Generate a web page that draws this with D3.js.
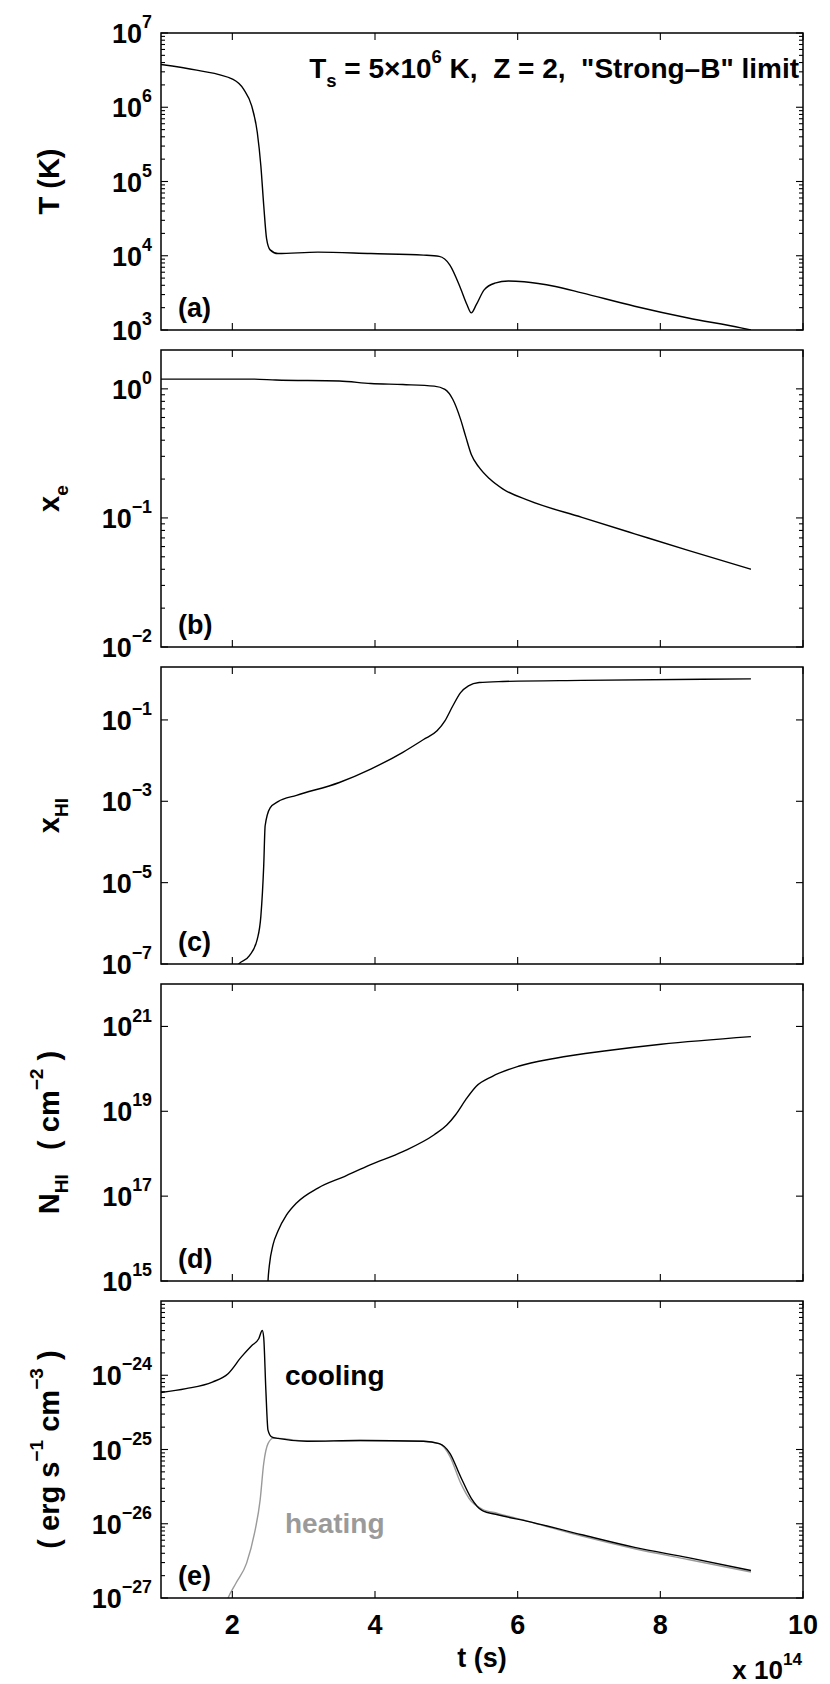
<!DOCTYPE html>
<html>
<head>
<meta charset="utf-8">
<script src="https://cdn.jsdelivr.net/npm/d3@7"></script>
<style>
  body { margin: 0; background: #fff; }
  text { font-family: "Liberation Sans", Arial, Helvetica, sans-serif; font-weight: bold; white-space: pre; }
</style>
</head>
<body>
<svg id="chart" width="830" height="1684"></svg>
<script>
// time axis in units of 1e14 s
const xTicks = [2, 4, 6, 8, 10];

// (a) temperature T (K)
const tempTime = [1.0, 1.5, 2.01, 2.16, 2.27, 2.35, 2.40, 2.44, 2.48, 2.53, 2.64, 3.2, 3.94, 4.68, 4.90,
  5.05, 5.2, 5.29, 5.35, 5.42, 5.53, 5.68, 5.87, 6.09, 6.53, 6.9, 7.64, 8.39, 9.13, 9.27];
const tempK = [3.77e6, 3.16e6, 2.37e6, 1.74e6, 1.05e6, 4.57e5, 1.62e5, 4.79e4, 1.70e4, 1.20e4, 1.07e4,
  1.12e4, 1.07e4, 1.02e4, 9.8e3, 7.5e3, 3.63e3, 2.19e3, 1.70e3, 2.19e3, 3.47e3, 4.27e3, 4.57e3, 4.47e3,
  3.85e3, 3.16e3, 2.09e3, 1.45e3, 1.07e3, 1.0e3];

// (b) electron fraction x_e
const xeTime = [1.0, 2.31, 2.61, 3.5, 3.94, 4.39, 4.83, 4.98, 5.09, 5.2, 5.27, 5.35, 5.46, 5.61, 5.79,
  6.16, 6.9, 7.64, 8.39, 9.27];
const xeVals = [1.19, 1.19, 1.17, 1.15, 1.10, 1.08, 1.05, 0.99, 0.83, 0.58, 0.43, 0.31, 0.246, 0.20,
  0.168, 0.136, 0.101, 0.0753, 0.056, 0.040];

// (c) neutral hydrogen fraction x_HI
const xhiTime = [2.0, 2.09, 2.24, 2.35, 2.40, 2.44, 2.46, 2.53, 2.64, 2.90, 3.5, 3.94, 4.39, 4.68, 4.87,
  4.98, 5.09, 5.2, 5.31, 5.46, 5.79, 6.9, 9.27];
const xhiVals = [6e-8, 1e-7, 1.6e-7, 4.1e-7, 1.5e-6, 2.6e-5, 2.5e-4, 6.9e-4, 9.8e-4, 1.4e-3, 2.9e-3,
  6.2e-3, 1.6e-2, 3.3e-2, 5.4e-2, 9.5e-2, 0.22, 0.47, 0.69, 0.83, 0.88, 0.94, 1.02];

// (d) HI column density N_HI (cm^-2)
const nhiTime = [2.49, 2.50, 2.52, 2.57, 2.64, 2.76, 2.90, 3.2, 3.57, 3.94, 4.39, 4.83, 5.01, 5.13, 5.27,
  5.42, 5.64, 6.01, 6.53, 7.27, 8.01, 9.27];
const nhiVals = [4e14, 1e15, 2.4e15, 7.1e15, 1.5e16, 3.6e16, 6.9e16, 1.55e17, 2.9e17, 5.5e17, 1.12e18,
  2.8e18, 4.8e18, 8.3e18, 1.86e19, 3.9e19, 6.6e19, 1.15e20, 1.78e20, 2.7e20, 3.8e20, 5.75e20];

// (e) cooling and heating rates (erg s^-1 cm^-3)
const coolTime = [1.0, 1.35, 1.72, 1.94, 2.13, 2.27, 2.37, 2.42, 2.44, 2.47, 2.50, 2.55, 2.64, 3.05,
  3.79, 4.68, 4.90, 5.05, 5.2, 5.35, 5.50, 5.72, 6.16, 6.9, 7.64, 8.39, 9.27];
const coolRate = [5.85e-25, 6.6e-25, 8.1e-25, 1.05e-24, 1.78e-24, 2.5e-24, 3.1e-24, 4.0e-24, 3.2e-24,
  6.3e-25, 1.82e-25, 1.48e-25, 1.41e-25, 1.29e-25, 1.32e-25, 1.29e-25, 1.2e-25, 8.9e-26, 4.3e-26,
  2.2e-26, 1.51e-26, 1.32e-26, 1.07e-26, 7.1e-27, 4.8e-27, 3.5e-27, 2.35e-27];
const heatTime = [1.88, 1.94, 2.05, 2.2, 2.31, 2.39, 2.44, 2.50, 2.57, 2.64, 3.05, 3.79, 4.68, 4.90,
  5.05, 5.2, 5.35, 5.50, 5.72, 6.16, 6.9, 7.64, 8.39, 9.27];
const heatRate = [7e-28, 1e-27, 1.58e-27, 2.95e-27, 7.4e-27, 2.1e-26, 6.5e-26, 1.2e-25, 1.41e-25,
  1.41e-25, 1.29e-25, 1.32e-25, 1.29e-25, 1.2e-25, 8.1e-26, 3.55e-26, 2.0e-26, 1.58e-26, 1.38e-26,
  1.07e-26, 6.8e-27, 4.6e-27, 3.3e-27, 2.24e-27];

const LEFT = 161, RIGHT = 803;
const PANEL_TOP = [33, 350, 667, 984, 1301];
const PANEL_H = 297;
const TICK_FONT = 27, LABEL_FONT = 29;

const svg = d3.select("#chart");
const x = d3.scaleLinear().domain([1, 10]).range([LEFT, RIGHT]);

// write text with sub/superscript parts: [[str, ""|"sub"|"sup"], ...]
function richText(sel, parts, size) {
  let shift = 0;
  parts.forEach(([str, kind]) => {
    const target = kind === "sub" ? 0.32 * size : kind === "sup" ? -0.55 * size : 0;
    sel.append("tspan")
      .attr("dy", target - shift)
      .attr("font-size", kind ? size * 0.66 : size)
      .text(str);
    shift = target;
  });
  return sel;
}

const panels = [
  {
    domain: [1e3, 1e7], majors: [3, 4, 5, 6, 7], minors: true, letter: "(a)",
    ylabel: [["T (K)", ""]],
    series: [{ t: tempTime, v: tempK, color: "#000" }]
  },
  {
    domain: [1e-2, 2], majors: [-2, -1, 0], minors: true, letter: "(b)",
    ylabel: [["x", ""], ["e", "sub"]],
    series: [{ t: xeTime, v: xeVals, color: "#000" }]
  },
  {
    domain: [1e-7, 2], majors: [-7, -5, -3, -1], minors: false, letter: "(c)",
    ylabel: [["x", ""], ["HI", "sub"]],
    series: [{ t: xhiTime, v: xhiVals, color: "#000" }]
  },
  {
    domain: [1e15, 1e22], majors: [15, 17, 19, 21], minors: false, letter: "(d)",
    ylabel: [["N", ""], ["HI", "sub"], ["   ( cm", ""], ["\u22122", "sup"], [" )", ""]],
    series: [{ t: nhiTime, v: nhiVals, color: "#000" }]
  },
  {
    domain: [1e-27, 1e-23], majors: [-27, -26, -25, -24], minors: true, letter: "(e)",
    ylabel: [["( erg s", ""], ["\u22121", "sup"], [" cm", ""], ["\u22123", "sup"], [" )", ""]],
    series: [
      { t: heatTime, v: heatRate, color: "#9a9a9a" },
      { t: coolTime, v: coolRate, color: "#000" }
    ]
  }
];

panels.forEach((p, i) => {
  const top = PANEL_TOP[i], bottom = top + PANEL_H;
  const y = d3.scaleLog().domain(p.domain).range([bottom, top]);
  const g = svg.append("g");

  g.append("clipPath").attr("id", "clip" + i)
    .append("rect").attr("x", LEFT).attr("y", top)
    .attr("width", RIGHT - LEFT).attr("height", PANEL_H);

  // curves
  const line = d3.line()
    .x((d) => x(d[0]))
    .y((d) => y(d[1]))
    .curve(d3.curveMonotoneX);
  p.series.forEach((s) => {
    g.append("path")
      .attr("clip-path", `url(#clip${i})`)
      .attr("d", line(s.t.map((t, k) => [t, s.v[k]])))
      .attr("fill", "none")
      .attr("stroke", s.color)
      .attr("stroke-width", 1.4);
  });

  // y ticks (left and right, pointing inward)
  const [lo, hi] = p.domain;
  const majorVals = p.majors.map((e) => Math.pow(10, e)).filter((v) => v >= lo && v <= hi * 1.0001);
  let minorVals = [];
  if (p.minors) {
    minorVals = y.ticks().filter((v) => {
      const m = Math.round(v / Math.pow(10, Math.floor(Math.log10(v) + 1e-9)));
      return m !== 1 && v > lo && v < hi;
    });
  }
  const ticks = g.append("g").attr("stroke", "#000").attr("stroke-width", 1.1);
  majorVals.forEach((v) => {
    ticks.append("line").attr("x1", LEFT).attr("x2", LEFT + 7).attr("y1", y(v)).attr("y2", y(v));
    ticks.append("line").attr("x1", RIGHT).attr("x2", RIGHT - 7).attr("y1", y(v)).attr("y2", y(v));
  });
  minorVals.forEach((v) => {
    ticks.append("line").attr("x1", LEFT).attr("x2", LEFT + 4).attr("y1", y(v)).attr("y2", y(v));
    ticks.append("line").attr("x1", RIGHT).attr("x2", RIGHT - 4).attr("y1", y(v)).attr("y2", y(v));
  });
  // x ticks (top and bottom)
  xTicks.forEach((t) => {
    ticks.append("line").attr("x1", x(t)).attr("x2", x(t)).attr("y1", bottom).attr("y2", bottom - 7);
    ticks.append("line").attr("x1", x(t)).attr("x2", x(t)).attr("y1", top).attr("y2", top + 7);
  });

  // y tick labels as 10^n
  majorVals.forEach((v) => {
    const e = Math.round(Math.log10(v));
    const lbl = g.append("text")
      .attr("x", 152)
      .attr("y", y(v) + 10)
      .attr("text-anchor", "end");
    richText(lbl, [["10", ""], [String(e).replace("-", "\u2212"), "sup"]], TICK_FONT);
  });

  // frame
  g.append("rect")
    .attr("x", LEFT).attr("y", top)
    .attr("width", RIGHT - LEFT).attr("height", PANEL_H)
    .attr("fill", "none").attr("stroke", "#000").attr("stroke-width", 1.5);

  // panel letter
  g.append("text")
    .attr("x", 178).attr("y", bottom - 13)
    .attr("font-size", 27)
    .text(p.letter);

  // y axis label
  const yl = g.append("text")
    .attr("transform", `translate(59,${(top + bottom) / 2}) rotate(-90)`)
    .attr("text-anchor", "middle");
  richText(yl, p.ylabel, LABEL_FONT);
});

// title in panel (a)
const title = svg.append("text")
  .attr("x", 799).attr("y", 78)
  .attr("text-anchor", "end");
richText(title, [["T", ""], ["s", "sub"], [" = 5\u00d710", ""], ["6", "sup"],
  [" K,  Z = 2,  \"Strong\u2013B\" limit", ""]], 28);

// cooling / heating labels in panel (e)
svg.append("text").attr("x", 285).attr("y", 1385).attr("font-size", 28).text("cooling");
svg.append("text").attr("x", 285).attr("y", 1533).attr("font-size", 28)
  .attr("fill", "#9a9a9a").text("heating");

// x tick labels on the bottom panel
const xLabels = svg.append("g").attr("font-size", TICK_FONT).attr("text-anchor", "middle");
xTicks.forEach((t) => {
  xLabels.append("text").attr("x", x(t)).attr("y", 1634).text(t);
});

svg.append("text")
  .attr("x", (LEFT + RIGHT) / 2).attr("y", 1667)
  .attr("text-anchor", "middle").attr("font-size", 27)
  .text("t (s)");

const mult = svg.append("text")
  .attr("x", 802).attr("y", 1679)
  .attr("text-anchor", "end");
richText(mult, [["x 10", ""], ["14", "sup"]], 26);
</script>
</body>
</html>
